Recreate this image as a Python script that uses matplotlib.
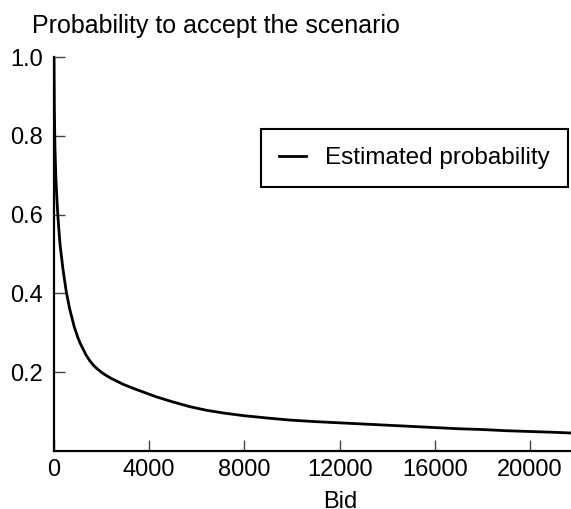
import matplotlib
matplotlib.use('Agg')
import matplotlib.pyplot as plt
plt.rcParams['font.family'] = ['Liberation Sans', 'DejaVu Sans']

# values
bid = [0, 15, 40, 80, 130, 160, 200, 260, 380, 513, 652, 849, 1000, 1100, 1350, 1500, 1660, 1800,
       2000, 2200, 2400, 2900, 3400, 4300, 5000, 5710, 6400, 7110, 8000, 9000, 9915,
       11000, 12000, 13000, 14000, 15000, 16000, 17000, 18000, 19000, 20000, 21000, 21800]
prob = [1.0, 0.87, 0.77, 0.69, 0.63, 0.6, 0.565, 0.52, 0.46, 0.405, 0.362, 0.315, 0.288, 0.273, 0.243, 0.229, 0.217, 0.209,
        0.199, 0.191, 0.184, 0.169, 0.157, 0.137, 0.124, 0.112, 0.103, 0.096, 0.089, 0.083, 0.078,
        0.074, 0.071, 0.068, 0.065, 0.062, 0.059, 0.056, 0.054, 0.051, 0.049, 0.047, 0.045]
xticks = [0, 4000, 8000, 12000, 16000, 20000]
yticks = [0.2, 0.4, 0.6, 0.8, 1.0]

fig = plt.figure(figsize=(5.71, 5.09), dpi=100)
ax = fig.add_axes([54/571, 1-450.8/509, 1-54/571, (450.8-57)/509])
ax.spines['right'].set_visible(False)
ax.spines['top'].set_visible(False)
for s in ['left', 'bottom']:
    ax.spines[s].set_linewidth(1.6)

ax.plot(bid, prob, color='black', linewidth=2, label='Estimated probability')

ax.set_xlim(0, 21720)
ax.set_ylim(0, 1.0)
ax.set_xticks(xticks)
ax.set_xticklabels([str(t) for t in xticks])
ax.set_yticks(yticks)
ax.set_yticklabels(['%.1f' % t for t in yticks])
ax.tick_params(direction='in', length=8, width=1, color='#444444', labelsize=17)
ax.tick_params(axis='x', pad=6)
ax.tick_params(axis='y', pad=8)

ax.set_xlabel('Bid', fontsize=17)
ax.xaxis.set_label_coords((340-54)/(571-54), -0.102)
fig.text(32/571, 1-33/509, 'Probability to accept the scenario', fontsize=18, va='baseline')

leg = ax.legend(loc='upper right', bbox_to_anchor=(568/571, 1-129/509), bbox_transform=fig.transFigure,
                fontsize=17.5, fancybox=False, framealpha=1, edgecolor='black',
                handlelength=1.1, borderpad=0.75, handletextpad=0.8, borderaxespad=0)
leg.get_frame().set_linewidth(1.5)

fig.savefig('out.png', dpi=100)
